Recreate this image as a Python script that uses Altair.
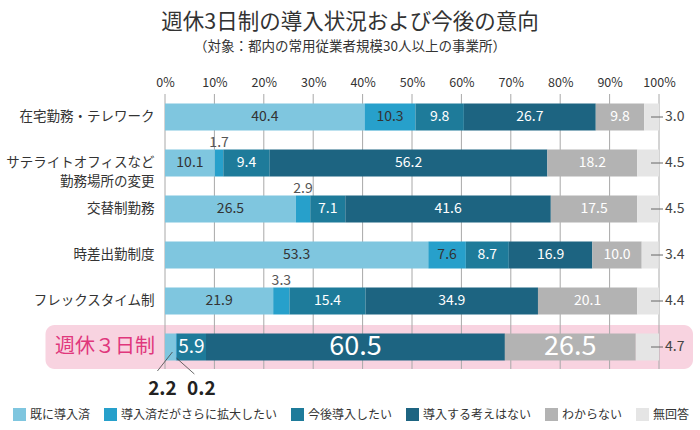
import altair as alt
import pandas as pd

FONT = "Noto Sans CJK JP"

title_text = "週休3日制の導入状況および今後の意向"
subtitle_text = "（対象：都内の常用従業者規模30人以上の事業所）"

rows = [
    "在宅勤務・テレワーク",
    "サテライトオフィスなど\n勤務場所の変更",
    "交替制勤務",
    "時差出勤制度",
    "フレックスタイム制",
    "週休３日制",
]
categories = ["既に導入済", "導入済だがさらに拡大したい", "今後導入したい",
              "導入する考えはない", "わからない", "無回答"]
colors = ["#7fc6df", "#27a0cb", "#1e7b9a", "#1d6481", "#b3b3b3", "#e5e5e5"]

v_telework = [40.4, 10.3, 9.8, 26.7, 9.8, 3.0]
v_satellite = [10.1, 1.7, 9.4, 56.2, 18.2, 4.5]
v_shift = [26.5, 2.9, 7.1, 41.6, 17.5, 4.5]
v_staggered = [53.3, 7.6, 8.7, 16.9, 10.0, 3.4]
v_flex = [21.9, 3.3, 15.4, 34.9, 20.1, 4.4]
v_4day = [2.2, 0.2, 5.9, 60.5, 26.5, 4.7]
values = [v_telework, v_satellite, v_shift, v_staggered, v_flex, v_4day]

ticks = [0, 10, 20, 30, 40, 50, 60, 70, 80, 90, 100]

# build the stacked table
recs = []
for ri, (row, vals) in enumerate(zip(rows, values)):
    start = 0.0
    for ci, (cat, v) in enumerate(zip(categories, vals)):
        end = min(start + v, 100.0)
        recs.append(dict(row=row, ri=ri, cat=cat, ci=ci, value=v, start=start,
                         end=end, mid=(start + end) / 2, label=f"{v:.1f}"))
        start += v
df = pd.DataFrame(recs)

W, H = 494, 276
ysc = alt.Scale(domain=rows, paddingInner=0.41, paddingOuter=0.205)
xsc = alt.Scale(domain=[0, 100], nice=False, clamp=True)
Y = alt.Y("row:N", scale=ysc, sort=rows, axis=None)
AX = alt.Axis(orient="top", values=ticks, labelExpr="datum.value + '%'",
              grid=False, domain=False, ticks=False, tickSize=0, labelFlush=False,
              labelOverlap=False, labelPadding=5, labelFont=FONT, labelFontSize=12.5,
              labelColor="#333", title=None)


def X(field):
    return alt.X(field, scale=xsc, axis=AX, title=None)


normal = df[df.ri < 5]
last = df[df.ri == 5]

# pink highlight
pink = alt.Chart(pd.DataFrame({"row": [rows[5]]})).mark_rect(
    color="#f8d3e0", cornerRadius=9
).encode(x=alt.value(-119.5), x2=alt.value(528), y=alt.value(231), y2=alt.value(275))

grid = alt.Chart(pd.DataFrame({"tick": ticks})).mark_rule(
    color="#a8a8a8", strokeWidth=1
).encode(x=X("tick:Q"), y=alt.value(0), y2=alt.value(275))

bars = alt.Chart(df).mark_bar(size=27).encode(
    x=X("start:Q"),
    x2="end:Q",
    y=Y,
    color=alt.Color("cat:N", scale=alt.Scale(domain=categories, range=colors),
                    sort=categories,
                    legend=alt.Legend(orient="none", direction="horizontal", title=None,
                                      legendX=-152, legendY=314, symbolType="square",
                                      symbolSize=169, symbolStrokeWidth=0,
                                      labelFont=FONT, labelFontSize=12,
                                      labelColor="#333", labelOffset=4, labelLimit=0,
                                      columnPadding=13, padding=0, symbolOpacity=1)),
)


def txt(data, color, size=14, **kw):
    return alt.Chart(data).mark_text(font=FONT, fontSize=size, color=color,
                                     baseline="middle", **kw).encode(
        x=X("mid:Q"), y=Y, text="label:N")


in_dark = txt(normal[(normal.ci <= 1) & (normal.value >= 5)], "#333")
in_white = txt(normal[(normal.ci >= 2) & (normal.ci <= 4) & (normal.value >= 5)], "white")
above = txt(normal[(normal.ci <= 4) & (normal.value < 5)], "#555", dy=-20)
last_small = txt(last[last.ci == 2], "white", size=19)
last_big = txt(last[(last.ci >= 3) & (last.ci <= 4)], "white", size=27)
below_a = txt(last[last.ci == 0], "#222", size=19, fontWeight="bold", dx=-8, dy=42)
below_b = txt(last[last.ci == 1], "#222", size=19, fontWeight="bold", dx=25, dy=42)

lead_a = alt.Chart(last[last.ci == 0]).mark_rule(color="#444", strokeWidth=0.8, xOffset=2, x2Offset=-13).encode(
    x=X("mid:Q"), x2="mid:Q", y=alt.value(258), y2=alt.value(277))
lead_b = alt.Chart(last[last.ci == 1]).mark_rule(color="#444", strokeWidth=0.8, xOffset=0, x2Offset=18).encode(
    x=X("mid:Q"), x2="mid:Q", y=alt.value(264), y2=alt.value(280))

na = df[df.ci == 5]
na_line = alt.Chart(na).mark_rule(color="#666", strokeWidth=1).encode(
    x=alt.value(486), x2=alt.value(498), y=Y)
na_text = alt.Chart(na).mark_text(font=FONT, fontSize=14, color="#444", align="left",
                                  baseline="middle").encode(x=alt.value(500), y=Y, text="label:N")

row_lab = alt.Chart(pd.DataFrame({"row": rows[:5]})).mark_text(
    font=FONT, fontSize=13.5, color="#333", align="right", baseline="middle",
    lineBreak="\n", lineHeight=19).encode(x=alt.value(-10.5), y=Y, text="row:N")
row_hi = alt.Chart(pd.DataFrame({"row": rows[5:]})).mark_text(
    font=FONT, fontSize=20, color="#e0377c", align="right", baseline="middle").encode(
    x=alt.value(-10), y=Y, text="row:N")

title = alt.Chart(pd.DataFrame({"t": [title_text]})).mark_text(
    font=FONT, fontSize=21.5, color="#333", align="center", baseline="middle").encode(
    x=alt.value(185), y=alt.value(-71), text="t:N")
subtitle = alt.Chart(pd.DataFrame({"t": [subtitle_text]})).mark_text(
    font=FONT, fontSize=13.5, color="#333", align="center", baseline="middle").encode(
    x=alt.value(185), y=alt.value(-47), text="t:N")

chart = alt.layer(
    pink, grid, bars, in_dark, in_white, above, last_small, last_big,
    lead_a, lead_b, below_a, below_b, na_line, na_text, row_lab, row_hi, title, subtitle
).properties(
    width=W, height=H,
    padding={"left": 165, "top": 94, "right": 41, "bottom": 60},
    autosize=alt.AutoSizeParams(type="none"),
    background="white",
).configure_view(stroke=None)

chart.save("out.html", embed_options={"renderer": "svg", "actions": False})
